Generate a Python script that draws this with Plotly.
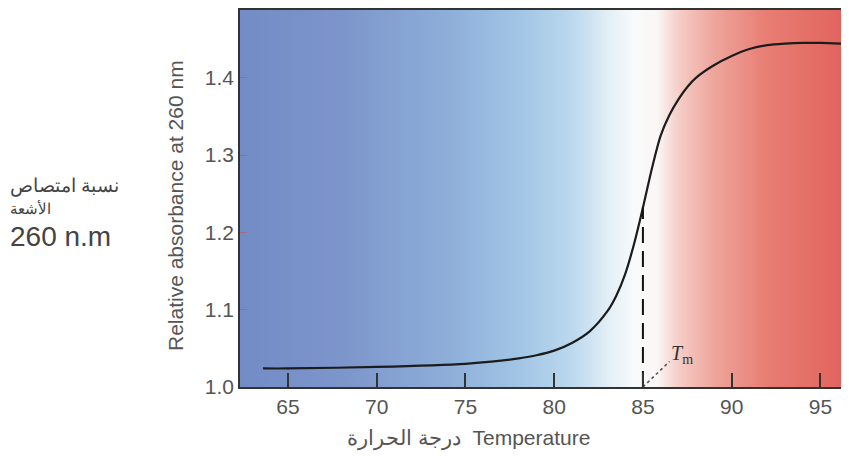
import numpy as np
import plotly.graph_objects as go

# ---- data ----
temperature = [63.6, 65, 70, 75, 77, 78, 79, 80, 81, 82, 83, 83.5, 84, 84.5, 85, 85.5,
               86, 86.5, 87, 87.5, 88, 89, 90, 91, 92, 93, 94, 95, 96.3]
absorbance = [1.024, 1.024, 1.026, 1.030, 1.034, 1.037, 1.041, 1.047, 1.057, 1.072, 1.098,
              1.118, 1.146, 1.185, 1.232, 1.282, 1.325, 1.352, 1.372, 1.388, 1.400, 1.416,
              1.428, 1.437, 1.442, 1.444, 1.445, 1.445, 1.444]
tm_value = 85
tm_absorbance = 1.232
x_ticks = [65, 70, 75, 80, 85, 90, 95]
y_ticks = [1.0, 1.1, 1.2, 1.3, 1.4]
y_tick_labels = ["1.0", "1.1", "1.2", "1.3", "1.4"]

x_range = [62.3, 96.61]
y_range = [1.0, 1.4875]

# background gradient stops (temperature, colour)
grad_t = [62.3, 68, 74, 78, 81, 83, 84.5, 85.8, 87, 89, 92, 96.61]
grad_c = ["rgb(116,140,198)", "rgb(124,149,203)", "rgb(142,174,217)", "rgb(162,197,229)",
          "rgb(187,216,238)", "rgb(226,239,246)", "rgb(248,250,251)", "rgb(250,246,245)",
          "rgb(244,205,198)", "rgb(238,165,155)", "rgb(232,125,115)", "rgb(224,98,92)"]

FONT = "Liberation Sans, Arial, sans-serif"

fig = go.Figure()

gx = np.linspace(x_range[0], x_range[1], 400)
span = x_range[1] - x_range[0]
colorscale = [[(t - x_range[0]) / span, c] for t, c in zip(grad_t, grad_c)]
fig.add_trace(go.Heatmap(
    x=gx, y=[y_range[0] - 0.01, y_range[1] + 0.01], z=[gx, gx],
    colorscale=colorscale, zmin=x_range[0], zmax=x_range[1],
    showscale=False, hoverinfo="skip", zsmooth="best"))

fig.add_trace(go.Scatter(
    x=temperature, y=absorbance, mode="lines",
    line=dict(color="#1c1c1c", width=2.2, shape="spline", smoothing=0.8),
    hoverinfo="skip", showlegend=False))

# Tm dashed line
fig.add_trace(go.Scatter(
    x=[tm_value, tm_value], y=[y_range[0], tm_absorbance], mode="lines",
    line=dict(color="#111", width=2, dash="16px,8px"),
    hoverinfo="skip", showlegend=False))

# dotted pointer to Tm label
fig.add_trace(go.Scatter(
    x=[tm_value, tm_value + 1.5], y=[y_range[0], 1.033], mode="lines",
    line=dict(color="#555", width=1.6, dash="dot"),
    hoverinfo="skip", showlegend=False))

fig.add_annotation(x=tm_value + 1.45, y=1.042, xref="x", yref="y",
                   text="<i>T</i><sub>m</sub>", showarrow=False,
                   font=dict(family="Liberation Serif, serif", size=20, color="#333"),
                   xanchor="left", yanchor="middle")

fig.update_xaxes(range=x_range, tickvals=x_ticks, ticks="inside", ticklen=14,
                 tickwidth=1.5, tickcolor="#333", showline=True, linecolor="#333",
                 linewidth=1.5, mirror=True, showgrid=False, zeroline=False,
                 tickfont=dict(family=FONT, size=21, color="#555"))
fig.update_yaxes(range=y_range, tickvals=y_ticks, ticktext=y_tick_labels,
                 ticks="inside", ticklen=7, tickwidth=1.2, tickcolor="#9a6f86",
                 showline=True, linecolor="#333", linewidth=1.5, showgrid=False,
                 zeroline=False, tickfont=dict(family=FONT, size=21, color="#555"))

# axis titles
fig.add_annotation(xref="paper", yref="paper", x=0, y=0.48, xshift=-65,
                   text="Relative absorbance at 260 nm", textangle=-90,
                   showarrow=False, xanchor="center", yanchor="middle",
                   font=dict(family=FONT, size=21, color="#555"))
fig.add_annotation(xref="paper", yref="paper", x=(468 - 240) / 609, y=0, yshift=-51,
                   text="درجة الحرارة  Temperature", showarrow=False,
                   xanchor="center", yanchor="middle",
                   font=dict(family=FONT, size=21, color="#555"))

# Arabic side label
fig.add_annotation(xref="paper", yref="paper", x=0, y=(387 - 184) / 379, xshift=-232,
                   text="نسبة امتصاص", showarrow=False, xanchor="left", yanchor="middle",
                   font=dict(family="Noto Sans, sans-serif", size=19, color="#444"))
fig.add_annotation(xref="paper", yref="paper", x=0, y=(387 - 207) / 379, xshift=-232,
                   text="الأشعة", showarrow=False, xanchor="left", yanchor="middle",
                   font=dict(family="Noto Sans, sans-serif", size=15, color="#444"))
fig.add_annotation(xref="paper", yref="paper", x=0, y=(387 - 236) / 379, xshift=-232,
                   text="260 n.m", showarrow=False, xanchor="left", yanchor="middle",
                   font=dict(family=FONT, size=28, color="#444"))

# page body adds an 8px offset, so the figure is sized to fit the window
fig.update_layout(width=841, height=451, margin=dict(l=232, r=0, t=0, b=72),
                  paper_bgcolor="white", plot_bgcolor="white", showlegend=False)

fig.write_html("out.html")
